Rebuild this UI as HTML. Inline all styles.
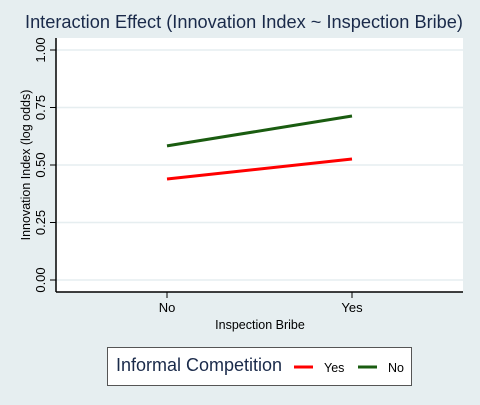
<!DOCTYPE html>
<html><head><meta charset="utf-8"><style>
body{margin:0;background:#e6eef0;font-family:"Liberation Sans",sans-serif}
</style></head><body>
<svg width="480" height="400" xmlns="http://www.w3.org/2000/svg" font-family="Liberation Sans, sans-serif">
<rect width="480" height="400" fill="#e6eef0"/>
<text x="244" y="28" text-anchor="middle" font-size="18.2" fill="#1a2a4a">Interaction Effect (Innovation Index ~ Inspection Bribe)</text>
<rect x="56" y="38" width="407" height="254" fill="#ffffff"/>
<g id="grid"></g><g id="axes"></g><g id="series"></g>
<text x="260" y="329" text-anchor="middle" font-size="12.5" fill="#000">Inspection Bribe</text>
<text transform="translate(30,165) rotate(-90)" text-anchor="middle" font-size="12.5" fill="#000">Innovation Index (log odds)</text>
<g>
<rect x="107.5" y="347.5" width="304" height="38" fill="#fff" stroke="#555"/>
<text x="116" y="371" font-size="18" fill="#1a2a4a">Informal Competition</text>
<line x1="294" y1="367" x2="313" y2="367" stroke="#ff0000" stroke-width="3"/>
<text x="324" y="372" font-size="12.5">Yes</text>
<line x1="358" y1="367" x2="377" y2="367" stroke="#1a5c10" stroke-width="3"/>
<text x="388" y="372" font-size="12.5">No</text>
</g>
</svg>
<script>
const categories=["No","Yes"];
const seriesNames=["Yes","No"];
const yesValues=[0.439,0.526];
const noValues=[0.583,0.713];
const yTicks=[0,0.25,0.5,0.75,1];
const yTickLabels=["0.00","0.25","0.50","0.75","1.00"];
const NS="http://www.w3.org/2000/svg";
const yS=v=>280-v*230;
const xS=i=>167+i*(352-167);
function mk(tag,attrs,parent){const e=document.createElementNS(NS,tag);for(const k in attrs)e.setAttribute(k,attrs[k]);parent.appendChild(e);return e;}
const grid=document.getElementById('grid'),axes=document.getElementById('axes'),ser=document.getElementById('series');
yTicks.forEach((t,i)=>{
 const g=mk('line',{x1:56,x2:463,y1:yS(t),y2:yS(t),stroke:'#e6eef0','stroke-width':1.5},grid);
 
 
 const tk=mk('line',{x1:50,x2:56,y1:yS(t),y2:yS(t),stroke:'#000'},axes);
 
 
 const tx=mk('text',{transform:`translate(45,${yS(t)}) rotate(-90)`,'text-anchor':'middle','font-size':13},axes);
 tx.textContent=yTickLabels[i];
 
 
});
const ya=mk('line',{x1:56,x2:56,y1:38,y2:292,stroke:'#000','stroke-width':1.5},axes);


const xa=mk('line',{x1:56,x2:463,y1:292,y2:292,stroke:'#000','stroke-width':1.5},axes);


categories.forEach((c,i)=>{
 const tk=mk('line',{x1:xS(i),x2:xS(i),y1:292,y2:298,stroke:'#000'},axes);
 
 
 const tx=mk('text',{x:xS(i),y:312,'text-anchor':'middle','font-size':13},axes);
 tx.textContent=c;
 
 
});
[[yesValues,'#ff0000','line-yes'],[noValues,'#1a5c10','line-no']].forEach(([vals,col,name])=>{
 const p=mk('polyline',{points:vals.map((v,i)=>xS(i)+','+yS(v)).join(' '),fill:'none',stroke:col,'stroke-width':3},ser);
 
 
});
</script>
</body></html>
